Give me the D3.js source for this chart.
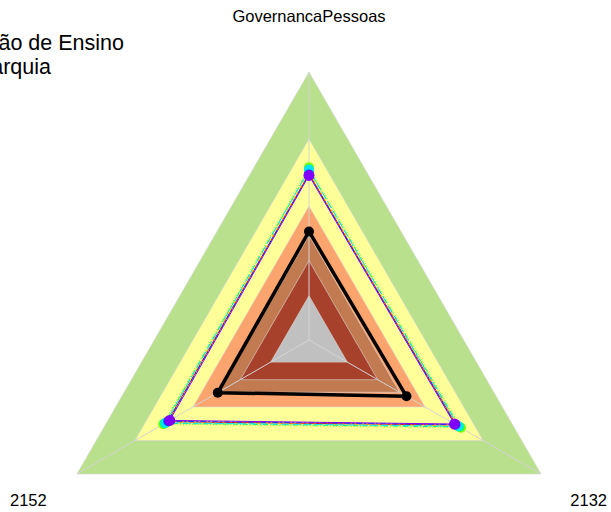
<!DOCTYPE html>
<html>
<head>
<meta charset="utf-8">
<script src="https://cdn.jsdelivr.net/npm/d3@7"></script>
<style>
  body { margin: 0; background: #fff; }
  svg { display: block; font-family: "Liberation Sans", Arial, sans-serif; }
</style>
</head>
<body>
<svg id="chart" width="611" height="512"></svg>
<script>
// axes (counter-clockwise from top, as in fmsb radarchart)
var axes = ["GovernancaPessoas", "2152", "2132"];

// background bands (outer to inner), value on a 0-100 scale
var bandLevels = [100, 75, 50, 39, 29.6, 16.5];
var bandColors = ["#b9e08c", "#ffff99", "#fca46e", "#c27a50", "#a8412b", "#c0c0c0"];

// rainbow series (drawn in this order, purple last)
var seriesColors = ["#ff0000", "#ffb000", "#80ff00", "#00ff80", "#00e5ff", "#0040ff", "#8000ff"];
var seriesValues = [
  [62.0, 61.0, 63.5],
  [62.5, 61.5, 64.0],
  [64.5, 62.8, 65.5],
  [63.5, 62.2, 64.8],
  [63.6, 61.8, 64.3],
  [61.8, 60.6, 63.1],
  [61.4, 60.0, 62.7]
];
var seriesDash = [null, "4,3", "1,2", "5,2,1,2", "8,3", "2,2,6,2", null];

// black reference series
var blackValues = [40.5, 39.3, 42.0];

var svg = d3.select("#chart");
var cx = 309, cy = 340, R = 268;

var r = d3.scaleLinear().domain([0, 100]).range([0, R]);
var angle = d3.scalePoint().domain(axes.concat(["_end"])).range([-Math.PI / 2, -Math.PI / 2 - 2 * Math.PI]);

function pt(axis, v) {
  var a = angle(axis);
  return [cx + r(v) * Math.cos(a), cy + r(v) * Math.sin(a)];
}

var line = d3.line();

// bands
svg.selectAll(".band")
  .data(bandLevels)
  .join("polygon")
  .attr("class", "band")
  .attr("points", function (lv) {
    return axes.map(function (a) { return pt(a, lv).join(","); }).join(" ");
  })
  .attr("fill", function (d, i) { return bandColors[i]; })
  .attr("stroke", "#d9d9d9")
  .attr("stroke-width", 0.6);

// axis lines
svg.selectAll(".axis")
  .data(axes)
  .join("line")
  .attr("class", "axis")
  .attr("x1", cx).attr("y1", cy)
  .attr("x2", function (a) { return pt(a, 100)[0]; })
  .attr("y2", function (a) { return pt(a, 100)[1]; })
  .attr("stroke", "#d3d3d3")
  .attr("stroke-width", 1);

// colored series
seriesValues.forEach(function (vals, i) {
  var pts = axes.map(function (a, j) { return pt(a, vals[j]); });
  svg.append("path")
    .attr("d", line(pts) + "Z")
    .attr("fill", "none")
    .attr("stroke", seriesColors[i])
    .attr("stroke-width", 1)
    .attr("stroke-dasharray", seriesDash[i]);
});
seriesValues.forEach(function (vals, i) {
  svg.selectAll(".dot" + i)
    .data(vals)
    .join("circle")
    .attr("cx", function (v, j) { return pt(axes[j], v)[0]; })
    .attr("cy", function (v, j) { return pt(axes[j], v)[1]; })
    .attr("r", i === seriesValues.length - 1 ? 5.5 : 5)
    .attr("fill", seriesColors[i]);
});

// black series
var bpts = axes.map(function (a, j) { return pt(a, blackValues[j]); });
svg.append("path")
  .attr("d", line(bpts) + "Z")
  .attr("fill", "none")
  .attr("stroke", "#000")
  .attr("stroke-width", 3.5)
  .attr("stroke-linejoin", "round");
svg.selectAll(".bdot")
  .data(blackValues)
  .join("circle")
  .attr("cx", function (v, j) { return pt(axes[j], v)[0]; })
  .attr("cy", function (v, j) { return pt(axes[j], v)[1]; })
  .attr("r", 5)
  .attr("fill", "#000");

// axis labels
svg.append("text").attr("x", 309).attr("y", 22).attr("text-anchor", "middle")
  .attr("font-size", 16.5).text(axes[0]);
svg.append("text").attr("x", 10).attr("y", 506).attr("font-size", 16.5).text(axes[1]);
svg.append("text").attr("x", 607).attr("y", 506).attr("text-anchor", "end")
  .attr("font-size", 16.5).text(axes[2]);

// title (clipped at left edge, as in the reference)
svg.append("text").attr("x", 124).attr("y", 50).attr("text-anchor", "end")
  .attr("font-size", 21.5).text("Gestão de Ensino");
svg.append("text").attr("x", 51).attr("y", 74).attr("text-anchor", "end")
  .attr("font-size", 21.5).text("Hierarquia");
</script>
</body>
</html>
